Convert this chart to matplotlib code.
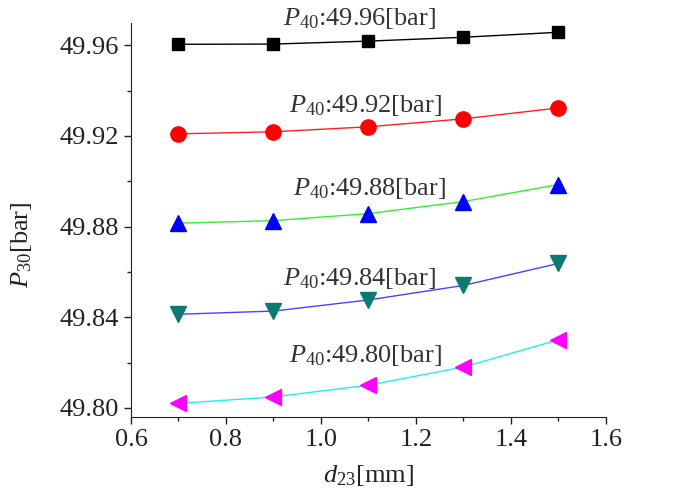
import matplotlib
matplotlib.use("Agg")
import matplotlib.pyplot as plt
from matplotlib.ticker import MultipleLocator, FormatStrFormatter

plt.rcParams['font.family'] = ['Liberation Serif', 'DejaVu Serif']
plt.rcParams['mathtext.fontset'] = 'custom'
plt.rcParams['mathtext.rm'] = 'Liberation Serif'
plt.rcParams['mathtext.it'] = 'Liberation Serif:italic'

d23 = [0.7, 0.9, 1.1, 1.3, 1.5]
p_4996 = [49.9604, 49.9605, 49.9618, 49.9635, 49.9657]
p_4992 = [49.9209, 49.9218, 49.9240, 49.9275, 49.9323]
p_4988 = [49.8815, 49.8826, 49.8857, 49.8910, 49.8985]
p_4984 = [49.8413, 49.8427, 49.8476, 49.8540, 49.8637]
p_4980 = [49.8020, 49.8048, 49.8100, 49.8180, 49.8300]
labels = ['49.96', '49.92', '49.88', '49.84', '49.80']

fig = plt.figure(figsize=(6.84, 4.94), dpi=100)
ax = fig.add_axes([0.1915, 0.156, 0.694, 0.797])

series = [
    (p_4996, 'black', 's', 'black', 9),
    (p_4992, '#ff2020', 'o', 'red', 11),
    (p_4988, '#33ee33', '^', 'blue', 12),
    (p_4984, '#4444ff', 'v', '#0d7a72', 12),
    (p_4980, '#22eeee', '<', '#ff00ff', 12),
]
for (vals, lc, mk, mc, ms) in series:
    ax.plot(d23, vals, color=lc, lw=1.0, zorder=2)
    ax.plot(d23, vals, ls='none', marker=mk, color=mc, markersize=ms,
            markeredgecolor=mc, zorder=3)

label_pos = [(1.082, 49.9688), (1.095, 49.9306), (1.103, 49.8937), (1.082, 49.8541), (1.095, 49.8204)]
for (x, y), lab in zip(label_pos, labels):
    ax.text(x, y, r'$P_{40}$:' + lab + '[bar]', fontsize=19, color='#333333',
            ha='center', va='baseline')

ax.set_xlim(0.6, 1.6)
ax.set_ylim(49.796, 49.9697)
ax.xaxis.set_major_locator(MultipleLocator(0.2))
ax.xaxis.set_minor_locator(MultipleLocator(0.1))
ax.yaxis.set_major_locator(MultipleLocator(0.04))
ax.yaxis.set_minor_locator(MultipleLocator(0.02))
ax.xaxis.set_major_formatter(FormatStrFormatter('%.1f'))
ax.yaxis.set_major_formatter(FormatStrFormatter('%.2f'))
ax.tick_params(which='major', direction='out', length=5, width=1, labelsize=19, colors='#222222')
ax.tick_params(which='minor', direction='out', length=3, width=1, colors='#222222')
ax.spines['top'].set_visible(False)
ax.spines['right'].set_visible(False)
for s in ['left', 'bottom']:
    ax.spines[s].set_color('#222222')

ax.set_ylabel(r'$P_{30}$[bar]', fontsize=19, color='#222222')
ax.yaxis.set_label_coords(-0.205, 0.437)
ax.set_xlabel(r'$d_{23}$[mm]', fontsize=19, color='#222222')
ax.xaxis.set_label_coords(0.5, -0.118)

fig.savefig('out.png', dpi=100)
